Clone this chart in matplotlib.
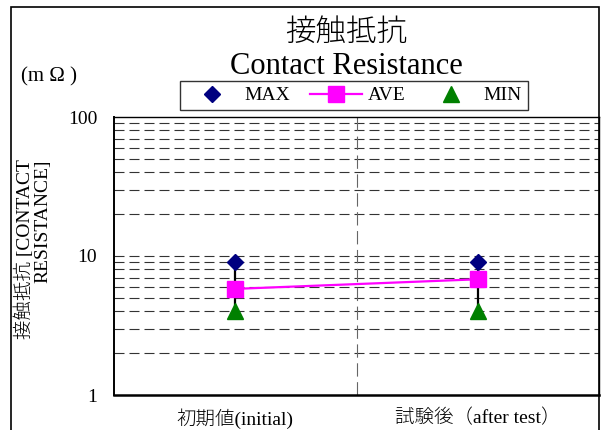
import numpy as np
import matplotlib
matplotlib.use('Agg')
from matplotlib import pyplot as plt
from matplotlib.patches import Rectangle

# Data
categories = ['初期値(initial)', '試験後（after test）']
max_vals = [9.0, 9.0]
ave_vals = [5.8, 6.8]
min_vals = [4.0, 4.0]

fam = ['Liberation Serif', 'Noto Sans CJK JP']
plt.rcParams['font.family'] = fam

W, H = 605., 430.
fig = plt.figure(figsize=(W/100, H/100), dpi=100)
ax = fig.add_axes([114/W, 1-395/H, 485/W, 278/H])

x = np.arange(len(categories)) + 0.5

# High-low lines
for xi, lo, hi in zip(x, min_vals, max_vals):
    ax.plot([xi, xi], [lo, hi], '-', color='black', lw=1.6, zorder=3)

ax.plot(x, max_vals, 'D', color='#000080', ms=8, ls='none', label='MAX', zorder=4)
ax.plot(x, ave_vals, 's-', color='#ff00ff', ms=11, lw=1.6, label='AVE', zorder=5)
ax.plot(x, min_vals, '^', color='#008000', ms=11.5, ls='none', label='MIN', zorder=4)

# Axes
ax.set_yscale('log')
ax.set_ylim(1, 100)
ax.set_xlim(0, 2)
for yv in list(range(2, 11)) + list(range(20, 100, 10)):
    ax.axhline(yv, color='#333333', lw=0.8, ls=(0, (9, 4.5)), zorder=1)
ax.axvline(1, color='#666666', lw=0.8, ls=(0, (12, 5)), zorder=1)

ax.set_yticks([1, 10, 100])
ax.set_yticklabels(['1', '10', '100'], fontsize=14)
ax.minorticks_off()
ax.tick_params(axis='y', length=0, pad=12)
ax.set_xticks(x)
ax.set_xticklabels(categories, fontsize=14, fontweight='light')
ax.tick_params(axis='x', length=0, pad=10)
for sp in ax.spines.values():
    sp.set_linewidth(1.0)
ax.spines['left'].set_linewidth(1.4)
ax.spines['bottom'].set_linewidth(1.8)

# Y label
fig.text(33/W, 1-249/H, '接触抵抗 [CONTACT\nRESISTANCE]', rotation=90, ha='center', va='center',
         multialignment='right', fontsize=14, linespacing=1.0, fontweight='light')

# Titles
fig.text(346/W, 1-41/H, '接触抵抗', ha='center', va='baseline', fontsize=22, fontweight='light')
fig.text(346/W, 1-74/H, 'Contact Resistance', ha='center', va='baseline', fontsize=22)
fig.text(21/W, 1-81/H, '(m Ω )', ha='left', va='baseline', fontsize=15)

leg = fig.legend(loc='center', bbox_to_anchor=(354/W, 1-95.5/H), ncol=3,
                 fontsize=14, frameon=True, fancybox=False, edgecolor='black',
                 handlelength=2.7, columnspacing=1.0, borderpad=0.3, handletextpad=0.3,
                 borderaxespad=0)
leg.get_frame().set_linewidth(1.0)

# Outer frame
fig.patches.append(Rectangle((11/W, -0.05), 588/W, 1.05-7/H, transform=fig.transFigure,
                             fill=False, edgecolor='black', lw=1.2))

plt.savefig('out.png', dpi=100)
